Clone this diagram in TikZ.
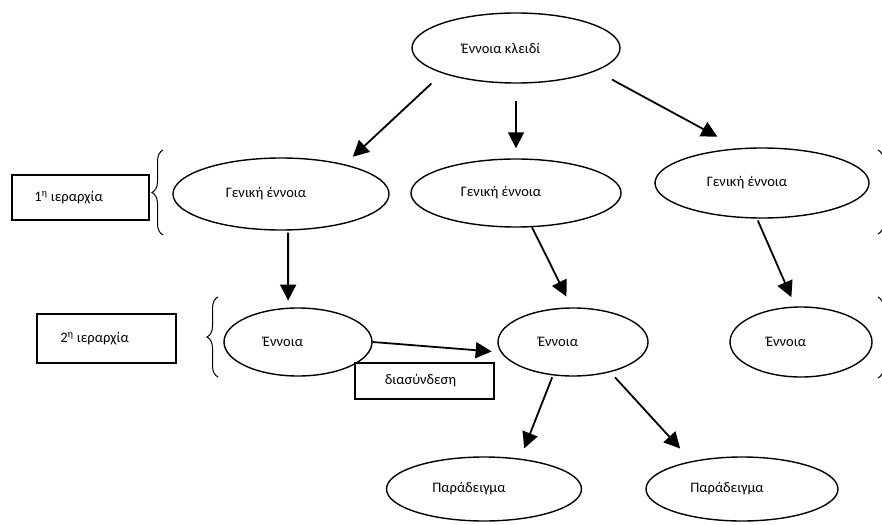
\documentclass[tikz,border=0pt]{standalone}
\usepackage{fontspec}
\setmainfont{Carlito}
\usetikzlibrary{shapes.geometric,arrows.meta,decorations.pathreplacing}

\tikzset{
  concept/.style={ellipse, draw, line width=1.4pt, inner sep=2pt,
    font=\fontsize{14.5}{17}\selectfont, execute at end node={\hspace{30pt}}},
  levelbox/.style={rectangle, draw, line width=1.3pt, inner sep=2pt,
    font=\fontsize{14.5}{17}\selectfont},
  lpad/.style={execute at end node={\hspace{#1}}},
  link/.style={line width=1.8pt, -{Triangle[length=16pt,width=16pt]}},
  curly/.style={decorate, decoration={brace, amplitude=11pt}, line width=1pt}
}

\begin{document}
\begin{tikzpicture}[x=1pt,y=-1pt]
  \useasboundingbox (0,0) rectangle (882,524);

  % concepts
  \node[concept, minimum width=208, minimum height=70] (key) at (516,48) {Έννοια κλειδί};
  \node[concept, minimum width=216, minimum height=72] (gen1) at (281,194) {Γενική έννοια};
  \node[concept, minimum width=210, minimum height=68] (gen2) at (516,193) {Γενική έννοια};
  \node[concept, minimum width=214, minimum height=70] (gen3) at (762,183) {Γενική έννοια};
  \node[concept, minimum width=148, minimum height=68] (sub1) at (298,342) {Έννοια};
  \node[concept, minimum width=150, minimum height=68] (sub2) at (573,342) {Έννοια};
  \node[concept, minimum width=142, minimum height=70] (sub3) at (801,342) {Έννοια};
  \node[concept, minimum width=195, minimum height=64] (ex1) at (484,489) {Παράδειγμα};
  \node[concept, minimum width=192, minimum height=64] (ex2) at (742,489) {Παράδειγμα};

  % level boxes
  \node[levelbox, lpad=24pt, minimum width=137, minimum height=45] (lvl1) at (80.5,197.5) {1\textsuperscript{η} ιεραρχία};
  \node[levelbox, lpad=24pt, minimum width=139, minimum height=49] (lvl2) at (106.5,338.5) {2\textsuperscript{η} ιεραρχία};
  \node[levelbox, lpad=8pt, minimum width=139, minimum height=36] (cross) at (424.5,381) {διασύνδεση};

  % braces
  \draw[curly] (163,235) -- (163,150);
  \draw[curly] (218,377) -- (218,297);
  \draw[curly] (878,150) -- (878,234);
  \draw[curly] (878,297) -- (878,378);

  % arrows
  \draw[link, shorten <=15pt, shorten >=11pt] (key.199) -- (gen1.25);
  \draw[link, shorten <=17pt, shorten >=10pt] (key.south) -- (gen2.north);
  \draw[link, shorten <=18pt, shorten >=24pt] (key.344.5) -- (gen3.124.6);
  \draw[link, shorten <=2pt, shorten >=7pt] (gen1.281) -- (sub1.106.5);
  \draw[link, shorten >=12pt] (gen2.295.5) -- (sub2.92.7);
  \draw[link, shorten <=2pt, shorten >=10pt] (gen3.262) -- (sub3.99.9);
  \draw[link, shorten >=9pt] (sub1.east) -- (sub2.188.5);
  \draw[link, shorten <=2pt, shorten >=11pt] (sub2.239.9) -- (ex1.40.6);
  \draw[link, shorten <=7pt, shorten >=17pt] (sub2.321.4) -- (ex2.151.7);
\end{tikzpicture}
\end{document}
